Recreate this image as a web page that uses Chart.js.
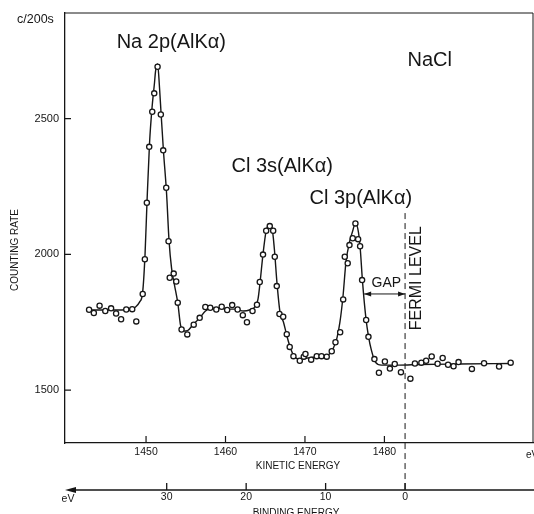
<!DOCTYPE html>
<html>
<head>
<meta charset="utf-8">
<script src="https://cdn.jsdelivr.net/npm/chart.js@4"></script>
<style>
  html, body { margin: 0; padding: 0; background: #fff; }
</style>
</head>
<body>
<canvas id="myChart" width="534" height="514"></canvas>
<script>
// measured points (kinetic energy eV, counts per 200 s)
const pointKE = [1442.83,1443.43,1444.15,1444.87,1445.60,1446.23,1446.86,1447.51,1448.26,1448.77,
  1449.58,1449.85,1450.10,1450.40,1450.78,1451.03,1451.45,1451.86,1452.16,1452.54,
  1452.83,1452.98,1453.48,1453.80,1453.99,1454.47,1455.19,1456.00,1456.75,1457.46,
  1458.08,1458.84,1459.52,1460.21,1460.84,1461.52,1462.18,1462.70,1463.40,1463.96,
  1464.31,1464.72,1465.12,1465.57,1466.00,1466.20,1466.45,1466.79,1467.26,1467.71,
  1468.08,1468.55,1469.35,1469.85,1470.06,1470.78,1471.48,1472.08,1472.74,1473.37,
  1473.84,1474.43,1474.81,1475.01,1475.38,1475.60,1476.01,1476.35,1476.69,1476.94,
  1477.19,1477.70,1477.99,1478.74,1479.31,1480.06,1480.69,1481.30,1482.08,1483.27,
  1483.84,1484.65,1485.25,1485.95,1486.69,1487.33,1488.01,1488.70,1489.33,1491.01,
  1492.54,1494.43,1495.89];
const pointCounts = [1796,1784,1811,1791,1801,1782,1761,1797,1798,1753,
  1854,1982,2190,2396,2525,2593,2691,2515,2383,2245,
  2048,1914,1929,1900,1822,1723,1705,1741,1766,1806,
  1803,1797,1807,1795,1813,1797,1776,1750,1791,1814,
  1898,1999,2087,2104,2087,1991,1883,1780,1770,1706,
  1659,1625,1608,1623,1633,1612,1625,1625,1623,1643,
  1676,1713,1834,1991,1967,2034,2059,2114,2056,2030,
  1905,1758,1696,1614,1564,1605,1579,1596,1566,1542,
  1598,1601,1608,1624,1597,1618,1593,1588,1603,1578,
  1599,1587,1601];

// hand drawn fit curve
const fitKE = [1442.77,1445.41,1447.92,1448.68,1449.18,1449.56,1449.87,1450.13,1450.44,1450.75,
  1451.07,1451.19,1451.45,1451.70,1451.89,1452.20,1452.58,1452.89,1453.21,1453.58,
  1454.00,1454.34,1454.72,1455.22,1455.97,1456.73,1457.48,1458.24,1459.25,1460.25,
  1461.26,1462.26,1463.02,1463.77,1464.09,1464.34,1464.72,1465.09,1465.47,1465.85,
  1466.16,1466.48,1466.86,1467.30,1467.67,1468.05,1468.55,1469.31,1470.31,1471.32,
  1472.33,1473.08,1473.58,1474.03,1474.40,1474.78,1475.16,1475.60,1475.97,1476.35,
  1476.73,1476.97,1477.23,1477.67,1477.99,1478.36,1478.87,1479.62,1480.63,1481.89,
  1484.40,1489.43,1495.85];
const fitCounts = [1795,1795,1796,1806,1824,1857,1997,2200,2410,2539,
  2634,2673,2701,2612,2520,2377,2226,2052,1949,1887,
  1820,1739,1717,1719,1743,1765,1791,1802,1802,1798,
  1798,1791,1795,1809,1835,1894,2001,2082,2108,2097,
  2016,1894,1787,1750,1706,1666,1629,1614,1618,1622,
  1622,1633,1655,1692,1750,1843,1971,2045,2082,2115,
  2082,2016,1905,1765,1699,1647,1603,1592,1592,1592,
  1594,1596,1598];

const yTicks = [1500, 2000, 2500];
const keTicks = [1450, 1460, 1470, 1480];
const bindingTicks = [30, 20, 10, 0];
const fermiKE = 1482.6;

// text labels placed in data coordinates
const peakLabels = [
  { text: 'Na 2p(AlK\u03b1)', ke: 1446.3, counts: 2782 },
  { text: 'Cl 3s(AlK\u03b1)', ke: 1460.75, counts: 2325 },
  { text: 'Cl 3p(AlK\u03b1)', ke: 1470.57, counts: 2207 },
  { text: 'NaCl', ke: 1482.9, counts: 2715 }
];

const FONT = "'Liberation Sans', Arial, sans-serif";
const INK = '#161616';

const extras = {
  id: 'extras',
  afterDraw(chart) {
    const { ctx, chartArea: a, scales: { x, y } } = chart;
    ctx.save();
    ctx.strokeStyle = INK;
    ctx.fillStyle = INK;

    // frame top and right
    ctx.lineWidth = 1;
    ctx.beginPath();
    ctx.moveTo(a.left, a.top); ctx.lineTo(a.right, a.top); ctx.lineTo(a.right, a.bottom);
    ctx.stroke();

    // inward ticks
    ctx.lineWidth = 1.2;
    ctx.beginPath();
    yTicks.forEach(v => { const py = y.getPixelForValue(v); ctx.moveTo(a.left, py); ctx.lineTo(a.left + 6, py); });
    keTicks.forEach(v => { const px = x.getPixelForValue(v); ctx.moveTo(px, a.bottom); ctx.lineTo(px, a.bottom - 7); });
    ctx.stroke();

    // fermi level
    const fx = x.getPixelForValue(fermiKE);
    ctx.lineWidth = 1;
    ctx.setLineDash([6, 4]);
    ctx.beginPath();
    ctx.moveTo(fx, y.getPixelForValue(2152));
    ctx.lineTo(fx, 490);
    ctx.stroke();
    ctx.setLineDash([]);

    // gap arrow
    const gy = y.getPixelForValue(1854);
    const gx0 = x.getPixelForValue(1477.45);
    ctx.beginPath();
    ctx.moveTo(gx0, gy); ctx.lineTo(fx, gy);
    ctx.stroke();
    ctx.beginPath();
    ctx.moveTo(gx0, gy); ctx.lineTo(gx0 + 7, gy - 2.5); ctx.lineTo(gx0 + 7, gy + 2.5); ctx.closePath();
    ctx.moveTo(fx, gy); ctx.lineTo(fx - 7, gy - 2.5); ctx.lineTo(fx - 7, gy + 2.5); ctx.closePath();
    ctx.fill();

    // peak labels
    ctx.font = '20px ' + FONT;
    ctx.textAlign = 'left';
    ctx.textBaseline = 'middle';
    peakLabels.forEach(l => ctx.fillText(l.text, x.getPixelForValue(l.ke), y.getPixelForValue(l.counts)));

    ctx.font = '14px ' + FONT;
    ctx.textAlign = 'center';
    ctx.fillText('GAP', x.getPixelForValue(1480.25), y.getPixelForValue(1894));

    ctx.save();
    ctx.translate(x.getPixelForValue(1484.0), y.getPixelForValue(1912));
    ctx.rotate(-Math.PI / 2);
    ctx.font = '16px ' + FONT;
    ctx.fillText('FERMI LEVEL', 0, 0);
    ctx.restore();

    // axis captions
    ctx.textAlign = 'left';
    ctx.font = '12.5px ' + FONT;
    ctx.fillText('c/200s', 17, 20);
    ctx.font = '10px ' + FONT;
    ctx.fillText('eV', 526, 455);
    ctx.textAlign = 'center';
    ctx.fillText('KINETIC ENERGY', 298, 466);
    ctx.save();
    ctx.translate(15, 250);
    ctx.rotate(-Math.PI / 2);
    ctx.fillText('COUNTING RATE', 0, 0);
    ctx.restore();

    // binding energy axis
    const by = 490;
    ctx.lineWidth = 1.3;
    ctx.beginPath();
    ctx.moveTo(a.left + 6, by); ctx.lineTo(534, by);
    bindingTicks.forEach(b => { const px = x.getPixelForValue(fermiKE - b); ctx.moveTo(px, by); ctx.lineTo(px, by - 7); });
    ctx.stroke();
    ctx.beginPath();
    ctx.moveTo(a.left, by); ctx.lineTo(a.left + 11, by - 3); ctx.lineTo(a.left + 11, by + 3); ctx.closePath();
    ctx.fill();
    ctx.font = '10.5px ' + FONT;
    bindingTicks.forEach(b => ctx.fillText(String(b), x.getPixelForValue(fermiKE - b), 497));
    ctx.fillText('eV', 68, 499);
    ctx.font = '10px ' + FONT;
    ctx.textBaseline = 'alphabetic';
    ctx.fillText('BINDING ENERGY', 296, 516);

    ctx.restore();
  }
};

new Chart(document.getElementById('myChart'), {
  type: 'scatter',
  data: {
    datasets: [
      {
        label: 'fit',
        data: fitKE.map((k, i) => ({ x: k, y: fitCounts[i] })),
        showLine: true,
        cubicInterpolationMode: 'monotone',
        borderColor: INK,
        borderWidth: 1.4,
        pointRadius: 0,
        fill: false,
        order: 2
      },
      {
        label: 'measured',
        data: pointKE.map((k, i) => ({ x: k, y: pointCounts[i] })),
        showLine: false,
        pointStyle: 'circle',
        pointRadius: 2.6,
        pointBorderWidth: 1.3,
        pointBackgroundColor: '#fff',
        pointBorderColor: INK,
        order: 1
      }
    ]
  },
  options: {
    responsive: false,
    animation: false,
    layout: { autoPadding: false, padding: { top: 13, right: 1, left: 0, bottom: 0 } },
    plugins: { legend: { display: false }, tooltip: { enabled: false } },
    scales: {
      x: {
        type: 'linear',
        min: 1439.8,
        max: 1498.7,
        afterBuildTicks: s => { s.ticks = keTicks.map(v => ({ value: v })); },
        afterFit: s => { s.height = 71; },
        grid: { display: false, drawTicks: false, tickLength: 0 },
        border: { display: true, color: INK, width: 1.3 },
        ticks: { color: INK, padding: 3, font: { family: FONT, size: 10.5 }, maxRotation: 0, callback: v => String(v) }
      },
      y: {
        type: 'linear',
        min: 1305,
        max: 2889,
        afterBuildTicks: s => { s.ticks = yTicks.map(v => ({ value: v })); },
        afterFit: s => { s.width = 65; },
        grid: { display: false, drawTicks: false, tickLength: 0 },
        border: { display: true, color: INK, width: 1.3 },
        ticks: { color: INK, padding: 6, font: { family: FONT, size: 11 }, callback: v => String(v) }
      }
    }
  },
  plugins: [extras]
});
</script>
</body>
</html>
